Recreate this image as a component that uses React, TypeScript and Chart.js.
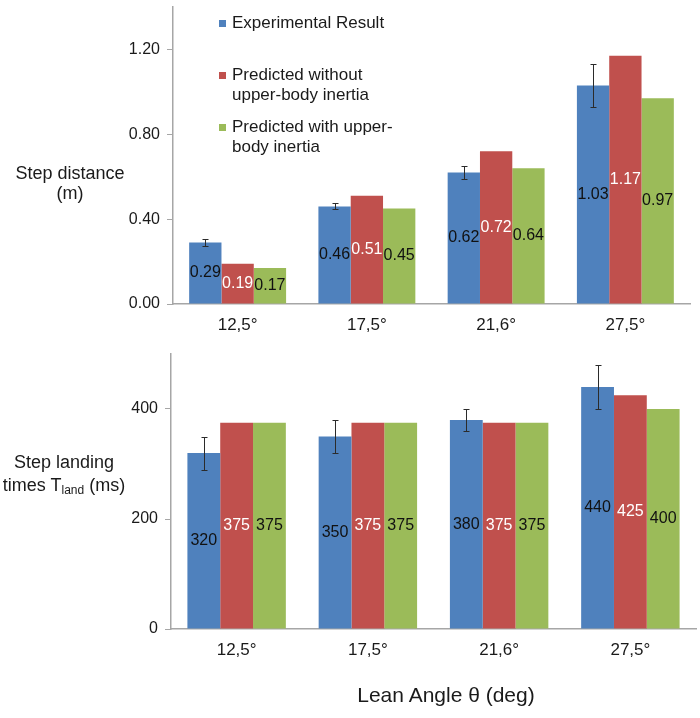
import React, { useEffect, useRef } from "react";
import { Chart, registerables } from "chart.js";
Chart.register(...registerables);

const categories = ["12,5°", "17,5°", "21,6°", "27,5°"];
const seriesNames = [
  "Experimental Result",
  "Predicted without upper-body inertia",
  "Predicted with upper-body inertia",
];
const distExperimental = [0.29, 0.46, 0.62, 1.03];
const distExperimentalErr = [0.017, 0.014, 0.03, 0.1];
const distNoInertia = [0.19, 0.51, 0.72, 1.17];
const distWithInertia = [0.17, 0.45, 0.64, 0.97];
const timeExperimental = [320, 350, 380, 440];
const timeExperimentalErr = [30, 30, 20, 40];
const timeNoInertia = [375, 375, 375, 425];
const timeWithInertia = [375, 375, 375, 400];

const COLORS = ["#4F81BD", "#C0504D", "#9BBB59"];
const LABEL_COLORS = ["#111111", "#FFFFFF", "#111111"];
const FONT = "'Liberation Sans', Arial, sans-serif";
const AXIS = "#A6A6A6";

const errorBarPlugin = {
  id: "errorBars",
  afterDatasetsDraw(chart: any, _args: any, opts: any) {
    const errs: number[] = opts.errors || [];
    const ds = chart.data.datasets[0];
    const meta = chart.getDatasetMeta(0);
    const y = chart.scales.y;
    const ctx = chart.ctx;
    ctx.save();
    ctx.strokeStyle = "#2b2b2b";
    ctx.lineWidth = 1;
    meta.data.forEach((bar: any, i: number) => {
      const v = ds.data[i] as number;
      const e = errs[i] || 0;
      const y1 = Math.round(y.getPixelForValue(v + e)) + 0.5;
      const y2 = Math.round(y.getPixelForValue(v - e)) + 0.5;
      const x = Math.round(bar.x) + 0.5;
      ctx.beginPath();
      ctx.moveTo(x, y1);
      ctx.lineTo(x, y2);
      ctx.moveTo(x - 3, y1);
      ctx.lineTo(x + 3, y1);
      ctx.moveTo(x - 3, y2);
      ctx.lineTo(x + 3, y2);
      ctx.stroke();
    });
    ctx.restore();
  },
};

const barLabelPlugin = {
  id: "barLabels",
  afterDatasetsDraw(chart: any, _args: any, opts: any) {
    const ctx = chart.ctx;
    const digits: number = opts.digits ?? 0;
    ctx.save();
    ctx.font = `16px ${FONT}`;
    ctx.textAlign = "center";
    ctx.textBaseline = "middle";
    chart.data.datasets.forEach((ds: any, di: number) => {
      const meta = chart.getDatasetMeta(di);
      ctx.fillStyle = LABEL_COLORS[di];
      meta.data.forEach((bar: any, i: number) => {
        const v = ds.data[i] as number;
        ctx.fillText(v.toFixed(digits), bar.x, (bar.y + bar.base) / 2);
      });
    });
    ctx.restore();
  },
};

function makeConfig(
  series: number[][],
  errs: number[],
  max: number,
  step: number,
  digits: number,
  padding: any
): any {
  return {
    type: "bar",
    data: {
      labels: categories,
      datasets: series.map((d, i) => ({
        label: seriesNames[i],
        data: d,
        backgroundColor: COLORS[i],
        borderWidth: 0,
        categoryPercentage: 0.75,
        barPercentage: 1,
      })),
    },
    plugins: [errorBarPlugin, barLabelPlugin],
    options: {
      animation: false,
      responsive: false,
      maintainAspectRatio: false,
      layout: { padding },
      plugins: {
        legend: { display: false },
        tooltip: { enabled: false },
        title: { display: false },
        errorBars: { errors: errs },
        barLabels: { digits },
      },
      scales: {
        x: {
          grid: { display: false, drawTicks: false },
          border: { display: true, color: AXIS, width: 1.5 },
          ticks: { padding: 11, color: "#1a1a1a", font: { family: FONT, size: 17 } },
          afterFit: (s: any) => {
            s.height = 36;
            s.paddingLeft = 0;
            s.paddingRight = 0;
          },
        },
        y: {
          min: 0,
          max,
          ticks: {
            stepSize: step,
            includeBounds: false,
            padding: 7,
            color: "#1a1a1a",
            font: { family: FONT, size: 16 },
            callback: (v: any) => Number(v).toFixed(digits === 0 ? 0 : 2),
          },
          grid: { drawOnChartArea: false, drawTicks: true, tickLength: 6, color: AXIS, lineWidth: 1 },
          border: { display: true, color: AXIS, width: 1.5 },
          afterFit: (s: any) => {
            s.width = 60;
            s.paddingTop = 0;
            s.paddingBottom = 0;
          },
        },
      },
    },
  };
}

function BarCanvas(props: { config: any; top: number; height: number }) {
  const ref = useRef<HTMLCanvasElement | null>(null);
  useEffect(() => {
    if (!ref.current) return;
    const chart = new Chart(ref.current, props.config);
    return () => chart.destroy();
  }, []);
  return (
    <canvas
      ref={ref}
      width={700}
      height={props.height}
      style={{ position: "absolute", left: 0, top: props.top, width: 700, height: props.height }}
    />
  );
}

const textStyle: React.CSSProperties = {
  position: "absolute",
  fontFamily: FONT,
  color: "#1a1a1a",
  whiteSpace: "nowrap",
};

function LegendItem(props: { color: string; lines: string[]; top: number }) {
  return (
    <div style={{ ...textStyle, left: 219, top: props.top, fontSize: 17, lineHeight: "20px" }}>
      <div
        style={{
          position: "absolute",
          left: 0,
          top: 7,
          width: 7,
          height: 7,
          background: props.color,
        }}
      />
      <div style={{ marginLeft: 13 }}>
        {props.lines.map((l, i) => (
          <div key={i}>{l}</div>
        ))}
      </div>
    </div>
  );
}

export default function App() {
  const topConfig = makeConfig(
    [distExperimental, distNoInertia, distWithInertia],
    distExperimentalErr,
    1.4,
    0.4,
    2,
    { left: 113, right: 10, top: 7, bottom: 0 }
  );
  const bottomConfig = makeConfig(
    [timeExperimental, timeNoInertia, timeWithInertia],
    timeExperimentalErr,
    500,
    200,
    0,
    { left: 111, right: 4, top: 14, bottom: 53 }
  );
  return (
    <div
      style={{
        position: "absolute",
        left: 0,
        top: 0,
        width: 700,
        height: 718,
        background: "#fff",
        overflow: "hidden",
      }}
    >
      <BarCanvas config={topConfig} top={0} height={340} />
      <BarCanvas config={bottomConfig} top={340} height={378} />

      <LegendItem color={COLORS[0]} lines={["Experimental Result"]} top={13} />
      <LegendItem color={COLORS[1]} lines={["Predicted without", "upper-body inertia"]} top={65} />
      <LegendItem color={COLORS[2]} lines={["Predicted with upper-", "body inertia"]} top={117} />

      <div
        style={{
          ...textStyle,
          left: 0,
          width: 140,
          top: 163,
          textAlign: "center",
          fontSize: 18,
          lineHeight: "20px",
        }}
      >
        <div>Step distance</div>
        <div>(m)</div>
      </div>

      <div
        style={{
          ...textStyle,
          left: 0,
          width: 128,
          top: 451,
          textAlign: "center",
          fontSize: 18,
          lineHeight: "23px",
        }}
      >
        <div>Step landing</div>
        <div>
          times T<sub style={{ fontSize: 12, verticalAlign: "-3px", lineHeight: 0 }}>land</sub> (ms)
        </div>
      </div>

      <div
        style={{
          ...textStyle,
          left: 346,
          width: 200,
          top: 682,
          textAlign: "center",
          fontSize: 21,
          lineHeight: "26px",
        }}
      >
        Lean Angle θ (deg)
      </div>
    </div>
  );
}
